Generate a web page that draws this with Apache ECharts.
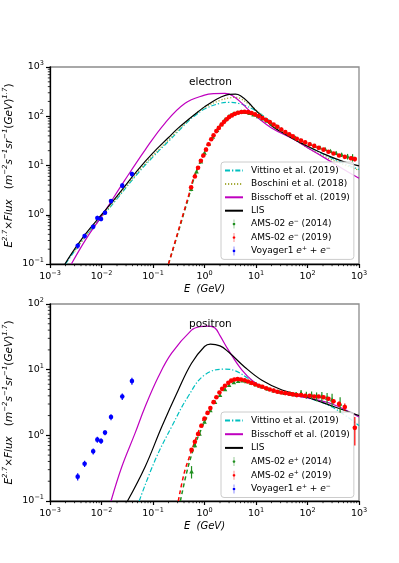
<!DOCTYPE html>
<html>
<head>
<meta charset="utf-8">
<script src="https://cdn.jsdelivr.net/npm/echarts@6/dist/echarts.min.js"></script>
<style>
html, body { margin: 0; padding: 0; background: #fff; }
#chart { width: 399px; height: 563px; }
</style>
</head>
<body>
<div id="chart"></div>
<script>
// ---------- electron panel ----------
const eLisE = [0.00195, 0.003, 0.005, 0.01, 0.02, 0.05, 0.1, 0.2, 0.3, 0.5, 0.8, 1, 1.5, 2, 3, 4, 5, 7, 10, 15, 20, 30, 50, 100, 200, 500, 1000]
const eLisF = [0.1, 0.2, 0.42, 1.0, 2.4, 8.0, 18, 37, 56, 88, 130, 155, 205, 240, 278, 282, 262, 195, 130, 87, 64, 49, 36, 24.5, 17.5, 12, 9.8]

const eBisE = [0.0026, 0.005, 0.01, 0.0286, 0.07, 0.17, 0.42, 1.0, 1.5, 2.5, 3.5, 5.3, 7, 10, 20, 57, 100, 250, 500, 1000]
const eBisF = [0.1, 0.32, 0.93, 5.1, 20.6, 72, 183, 268, 288, 292, 262, 185, 138, 100, 58, 33, 23, 13, 8.4, 5.5]

const eVitE = [0.002, 0.005, 0.01, 0.02, 0.05, 0.1, 0.2, 0.5, 0.65, 1, 2, 3, 5, 10, 20, 50, 100, 300, 1000]
const eVitF = [0.1, 0.38, 0.88, 2.1, 6.8, 15, 31, 82, 102, 140, 183, 192, 178, 128, 76, 39, 25, 14, 8.3]

const eBosE = [0.003, 0.005, 0.01, 0.02, 0.05, 0.1, 0.2, 0.5, 1, 2, 3, 4, 5, 7, 10, 20, 50, 100, 300, 1000]
const eBosF = [0.18, 0.37, 0.9, 2.2, 7.2, 16, 33, 86, 150, 210, 235, 242, 228, 180, 135, 72, 37, 23, 13, 8]

// AMS-02 electrons, dashed low-energy part
const eAms19TailE = [0.2, 0.3, 0.4, 0.5, 0.6, 0.75, 0.9, 1.1]
const eAms19TailF = [0.1, 0.42, 1.18, 2.6, 5.2, 9.5, 15, 23]
const eAms14TailE = [0.2, 0.3, 0.4, 0.5, 0.6, 0.75, 0.9, 1.1]
const eAms14TailF = [0.1, 0.4, 1.1, 2.4, 4.8, 9.0, 14, 22]

const eAms19E = [0.55,0.65,0.75,0.85,0.95,1.07,1.2,1.35,1.5,1.7,1.9,2.15,2.4,2.7,3.0,3.4,3.9,4.5,5.2,6.0,7.0,8.2,9.6,11.3,13.3,15.7,18.5,22,26,31,37,44,52,62,75,90,110,135,165,205,255,320,410,530,700,830]
const eAms19F = [3.6,6.0,9.0,12.5,16,21,27,34,41,50,58,68,77,87,96,104,112,118,122,123,121,116,109,101,92,84,76,68,61,54,48,43,39,35,32,29.5,27,25,23,21,19,17.5,16,15,14,13.5]
const eAms19Err = [0.2,0.3,0.4,0.5,0.6,0.7,0.8,1,1,1.2,1.3,1.5,1.6,1.8,2,2,2,2.2,2.3,2.3,2.3,2.2,2,2,1.8,1.7,1.5,1.4,1.3,1.2,1.1,1,1,0.9,0.9,0.8,0.8,0.8,0.8,0.8,0.8,0.8,0.9,1,1.2,1.5]

const eAms14E = [0.55,0.7,0.85,1.0,1.2,1.45,1.75,2.1,2.5,3.0,3.6,4.3,5.2,6.2,7.5,9,11,13.5,16.5,20,25,31,38,47,58,72,90,112,140,175,220,280,360,460,600,750]
const eAms14F = [3.3,7.5,12,18,27,38,52,68,85,100,112,119,122,121,116,108,99,89,80,71,62,54,47,41.5,36.5,32.5,29.5,27,25,23,21.5,19.5,17.8,16.5,15.2,14.5]
const eAms14Err = [0.3,0.4,0.5,0.6,0.8,1,1.2,1.5,1.8,2,2.2,2.3,2.4,2.4,2.3,2.2,2,1.8,1.6,1.5,1.3,1.2,1.1,1,1,0.9,0.9,0.9,1,1,1.1,1.2,1.4,1.6,2,2.5]

// ---------- positron panel ----------
const pLisE = [0.032, 0.07, 0.148, 0.31, 0.56, 1.0, 1.3, 2.0, 2.9, 6, 13, 32, 90, 340, 1000]
const pLisF = [0.1, 0.33, 1.35, 4.9, 12.5, 22.5, 24.5, 23, 18.7, 11, 6.9, 4.9, 3.9, 2.7, 2.0]

const pBisE = [0.0153, 0.0247, 0.0447, 0.07, 0.127, 0.23, 0.56, 0.8, 1.2, 1.6, 2.0, 2.9, 5.3, 8.9, 15, 30, 100, 300, 1000]
const pBisF = [0.1, 0.33, 1.07, 2.7, 7.8, 17.8, 40, 45, 46, 43, 33, 20, 9.9, 6.6, 5.2, 4.4, 3.7, 3.0, 1.9]

const pVitE = [0.054, 0.11, 0.23, 0.48, 1.0, 2.5, 4, 7, 15, 40, 100, 300, 1000]
const pVitF = [0.1, 0.42, 1.35, 3.9, 8.3, 10.2, 9.6, 7.4, 5.3, 4.2, 3.7, 2.7, 1.4]

const pAms19TailE = [0.31, 0.4, 0.5, 0.6, 0.75, 0.9, 1.1]
const pAms19TailF = [0.1, 0.26, 0.45, 0.68, 1.1, 1.6, 2.2]
const pAms14TailE = [0.34, 0.45, 0.56, 0.68, 0.85, 1.0, 1.2]
const pAms14TailF = [0.1, 0.27, 0.5, 0.78, 1.2, 1.6, 2.1]

const pAms19E = [0.56,0.65,0.75,0.87,1.0,1.15,1.3,1.5,1.7,1.95,2.2,2.5,2.9,3.3,3.8,4.4,5.1,6.0,7.0,8.2,9.6,11.3,13.3,15.7,18.5,22,26,31,37,44,52,62,75,90,110,135,165,205,255,320,410,530,830]
const pAms19F = [0.6,0.8,1.05,1.4,1.8,2.2,2.6,3.2,3.8,4.5,5.1,5.7,6.3,6.8,7.1,7.2,7.1,6.9,6.6,6.3,6.0,5.7,5.5,5.2,5.0,4.8,4.6,4.5,4.4,4.3,4.2,4.1,4.1,4.0,4.0,3.9,3.9,3.8,3.6,3.3,3.0,2.7,1.3]
const pAms19Err = [0.03,0.03,0.04,0.05,0.06,0.07,0.08,0.09,0.1,0.12,0.13,0.14,0.15,0.16,0.17,0.17,0.17,0.16,0.15,0.14,0.13,0.12,0.12,0.11,0.1,0.1,0.1,0.1,0.1,0.1,0.1,0.1,0.11,0.12,0.13,0.15,0.17,0.2,0.22,0.25,0.3,0.35,0.6]

const pAms14E = [0.56,0.65,0.8,1.0,1.3,1.6,2.0,2.5,3.0,3.7,4.5,5.5,6.5,8,10,13,17,22,28,36,46,60,75,95,120,150,190,240,300,430]
const pAms14F = [0.28,0.7,1.05,1.6,2.4,3.2,4.1,5.0,5.8,6.4,6.7,6.8,6.6,6.3,5.9,5.5,5.1,4.8,4.6,4.4,4.3,4.2,4.4,4.1,4.1,3.9,3.9,3.7,3.5,3.0]
const pAms14Err = [0.06,0.05,0.06,0.08,0.1,0.12,0.14,0.16,0.18,0.2,0.2,0.2,0.2,0.2,0.2,0.2,0.2,0.2,0.2,0.25,0.3,0.35,0.5,0.5,0.55,0.6,0.65,0.7,0.8,0.8]

// Voyager 1 e+ + e- (same points in both panels)
const voyE = [0.00345, 0.0047, 0.0069, 0.0083, 0.0098, 0.0117, 0.0153, 0.0253, 0.039]
const voyF = [0.235, 0.37, 0.57, 0.86, 0.82, 1.10, 1.9, 3.9, 6.7]
const voyErr = [0.03, 0.04, 0.06, 0.09, 0.08, 0.1, 0.2, 0.45, 0.8]

// axis ranges
const xRange = [0.001, 1000]
const yRangeTop = [0.1, 1000]
const yRangeBot = [0.1, 100]

const FONT = 'DejaVu Sans'
const errIcon = 'path://M4.5,0H5.5V20H4.5Z M5,7A3,3 0 1 1 5,13A3,3 0 1 1 5,7Z'

// minor tick values 2..9 x 10^k
function minorVals(lo, hi) {
    let out = []
    for (let k = Math.round(Math.log10(lo)); k < Math.round(Math.log10(hi)); k++) {
        for (let m = 2; m <= 9; m++) out.push(m * Math.pow(10, k))
    }
    return out
}

function pairs(xs, ys) {
    return xs.map((x, i) => [x, ys[i]])
}

function curve(name, xs, ys, color, type, width, idx) {
    return {
        name: name, type: 'line', xAxisIndex: idx, yAxisIndex: idx,
        data: pairs(xs, ys), symbol: 'none', smooth: 0.4,
        lineStyle: { color: color, width: width, type: type },
        itemStyle: { color: color }, z: 2
    }
}

// data with vertical error bars
function errSeries(name, xs, ys, errs, color, marker, idx) {
    return {
        name: name, type: 'custom', xAxisIndex: idx, yAxisIndex: idx,
        itemStyle: { color: color }, z: 4,
        data: xs.map((x, i) => [x, ys[i], ys[i] - errs[i], ys[i] + errs[i]]),
        encode: { x: 0, y: 1 },
        renderItem: function (params, api) {
            const p = api.coord([api.value(0), api.value(1)])
            const a = api.coord([api.value(0), Math.max(api.value(2), 0.001)])
            const b = api.coord([api.value(0), api.value(3)])
            let mark
            if (marker === 'tri') {
                mark = { type: 'polygon', shape: { points: [[p[0], p[1] - 2.4], [p[0] - 2.3, p[1] + 1.8], [p[0] + 2.3, p[1] + 1.8]] }, style: { fill: color } }
            } else {
                mark = { type: 'circle', shape: { cx: p[0], cy: p[1], r: 2.3 }, style: { fill: color } }
            }
            return {
                type: 'group', children: [
                    { type: 'line', shape: { x1: a[0], y1: a[1], x2: b[0], y2: b[1] }, style: { stroke: color, lineWidth: 1.2 } },
                    mark
                ]
            }
        }
    }
}

function minorTicks(axisDir, vals, other, idx) {
    return {
        type: 'custom', xAxisIndex: idx, yAxisIndex: idx, silent: true, z: 5,
        data: vals.map(v => axisDir === 'x' ? [v, other] : [other, v]),
        renderItem: function (params, api) {
            const cs = params.coordSys
            const p = api.coord([api.value(0), api.value(1)])
            if (axisDir === 'x') {
                const yb = cs.y + cs.height
                return { type: 'line', shape: { x1: p[0], y1: yb, x2: p[0], y2: yb + 2.2 }, style: { stroke: '#000', lineWidth: 0.8 } }
            }
            return { type: 'line', shape: { x1: cs.x, y1: p[1], x2: cs.x - 2.2, y2: p[1] }, style: { stroke: '#000', lineWidth: 0.8 } }
        }
    }
}

const supRich = {
    b: { fontFamily: FONT, fontSize: 9.5, lineHeight: 14, color: '#000' },
    s: { fontFamily: FONT, fontSize: 6.5, lineHeight: 8, verticalAlign: 'top', color: '#000' }
}

function powLabel(v) {
    const k = Math.round(Math.log10(v))
    return '{b|10}{s|' + (k < 0 ? '\u2212' + (-k) : k) + '}'
}

function xAxis(idx) {
    return {
        type: 'log', logBase: 10, gridIndex: idx, min: xRange[0], max: xRange[1], splitNumber: 6,
        name: 'E  (GeV)', nameLocation: 'middle', nameGap: 20, nameMoveOverlap: false,
        nameTextStyle: { fontFamily: FONT, fontSize: 10, fontStyle: 'italic', color: '#000' },
        axisLine: { lineStyle: { color: '#000', width: 1.3 } },
        axisTick: { length: 4, lineStyle: { color: '#000', width: 1.2 } },
        axisLabel: { margin: 6, formatter: powLabel, rich: supRich },
        splitLine: { show: false }
    }
}

const yName = '{i|E}{s|2.7}{n|\u00d7}{i|Flux}{n|   (}{i|m}{s|\u22122}{i|s}{s|\u22121}{i|sr}{s|\u22121}{n|(}{i|GeV}{n|)}{s|1.7}{n|)}'
const yNameRich = {
    i: { fontFamily: FONT, fontSize: 10.5, fontStyle: 'italic', lineHeight: 14, color: '#000' },
    n: { fontFamily: FONT, fontSize: 10.5, lineHeight: 14, color: '#000' },
    s: { fontFamily: FONT, fontSize: 7, fontStyle: 'italic', lineHeight: 8, verticalAlign: 'top', color: '#000' }
}

function yAxis(idx, range, split) {
    return {
        type: 'log', logBase: 10, gridIndex: idx, min: range[0], max: range[1], splitNumber: split,
        name: yName, nameLocation: 'middle', nameRotate: 90, nameGap: 34, nameMoveOverlap: false,
        nameTextStyle: { rich: yNameRich },
        axisLine: { lineStyle: { color: '#000', width: 1.3 } },
        axisTick: { length: 4, lineStyle: { color: '#000', width: 1.2 } },
        axisLabel: { margin: 6, formatter: powLabel, rich: supRich },
        splitLine: { show: false }
    }
}

const legendText = {
    'AMS-02 e- (2014)': 'AMS-02 {i|e}{s|\u2212} (2014)',
    'AMS-02 e- (2019)': 'AMS-02 {i|e}{s|\u2212} (2019)',
    'AMS-02 e+ (2014)': 'AMS-02 {i|e}{s|+} (2014)',
    'AMS-02 e+ (2019)': 'AMS-02 {i|e}{s|+} (2019)',
    'Voyager1 e+ + e-': 'Voyager1 {i|e}{s|+} + {i|e}{s|\u2212}'
}

function legend(top, gap, names) {
    return {
        orient: 'vertical', left: 221, top: top,
        padding: [3, 4, 3, 3], itemGap: gap, itemWidth: 18, itemHeight: 9,
        backgroundColor: 'rgba(255,255,255,0.85)', borderColor: '#cccccc', borderWidth: 1, borderRadius: 3,
        selectedMode: false,
        textStyle: {
            fontFamily: FONT, fontSize: 9, color: '#000', lineHeight: 11, padding: [0, 0, 0, 3],
            rich: {
                i: { fontFamily: FONT, fontSize: 9, fontStyle: 'italic', color: '#000', lineHeight: 11 },
                s: { fontFamily: FONT, fontSize: 6, lineHeight: 6, verticalAlign: 'top', color: '#000' }
            }
        },
        formatter: name => legendText[name] || name,
        // error-bar icon for data, plain line (symbol hidden) for models
        data: names.map(n => (legendText[n] ? { name: n, icon: errIcon } : { name: n, itemStyle: { opacity: 0 } }))
    }
}

const C_VIT = '#00bfbf', C_BOS = '#a6ac3c', C_BIS = '#bf00bf', C_LIS = '#000000'
const C_GRN = '#1f8f1f', C_RED = '#ff0000', C_BLU = '#0000ff'
const DASHDOT = [5, 2, 1.3, 2]

const chart = echarts.init(document.getElementById('chart'))
chart.setOption({
    animation: false,
    backgroundColor: '#fff',
    title: [
        { text: 'electron', left: 189, top: 77, padding: 0, textStyle: { fontFamily: FONT, fontSize: 10.5, fontWeight: 'normal', color: '#000' } },
        { text: 'positron', left: 189, top: 319, padding: 0, textStyle: { fontFamily: FONT, fontSize: 10.5, fontWeight: 'normal', color: '#000' } }
    ],
    grid: [
        { left: 50, right: 40, top: 67, height: 197, outerBoundsMode: 'none', containLabel: false, show: true, borderColor: '#8c8c8c', borderWidth: 1.3, backgroundColor: 'transparent' },
        { left: 50, right: 40, top: 304, height: 197, outerBoundsMode: 'none', containLabel: false, show: true, borderColor: '#8c8c8c', borderWidth: 1.3, backgroundColor: 'transparent' }
    ],
    xAxis: [xAxis(0), xAxis(1)],
    yAxis: [yAxis(0, yRangeTop, 4), yAxis(1, yRangeBot, 3)],
    legend: [
        legend(162, 2.4, ['Vittino et al. (2019)', 'Boschini et al. (2018)', 'Bisschoff et al. (2019)', 'LIS', 'AMS-02 e- (2014)', 'AMS-02 e- (2019)', 'Voyager1 e+ + e-']),
        legend(412, 2.7, ['Vittino et al. (2019)', 'Bisschoff et al. (2019)', 'LIS', 'AMS-02 e+ (2014)', 'AMS-02 e+ (2019)', 'Voyager1 e+ + e-'])
    ],
    series: [
        // electron panel
        curve('Vittino et al. (2019)', eVitE, eVitF, C_VIT, DASHDOT, 1.2, 0),
        curve('Boschini et al. (2018)', eBosE, eBosF, C_BOS, [1.2, 1.8], 1.3, 0),
        curve('Bisschoff et al. (2019)', eBisE, eBisF, C_BIS, 'solid', 1.2, 0),
        curve('LIS', eLisE, eLisF, C_LIS, 'solid', 1.2, 0),
        curve('e14 tail', eAms14TailE, eAms14TailF, C_GRN, [4, 3], 1.5, 0),
        curve('e19 tail', eAms19TailE, eAms19TailF, C_RED, [4, 3], 1.5, 0),
        errSeries('AMS-02 e- (2014)', eAms14E, eAms14F, eAms14Err, C_GRN, 'tri', 0),
        errSeries('AMS-02 e- (2019)', eAms19E, eAms19F, eAms19Err, C_RED, 'dot', 0),
        errSeries('Voyager1 e+ + e-', voyE, voyF, voyErr, C_BLU, 'dot', 0),
        minorTicks('x', minorVals(xRange[0], xRange[1]), yRangeTop[0], 0),
        minorTicks('y', minorVals(yRangeTop[0], yRangeTop[1]), xRange[0], 0),
        // positron panel
        curve('Vittino et al. (2019)', pVitE, pVitF, C_VIT, DASHDOT, 1.2, 1),
        curve('Bisschoff et al. (2019)', pBisE, pBisF, C_BIS, 'solid', 1.2, 1),
        curve('LIS', pLisE, pLisF, C_LIS, 'solid', 1.2, 1),
        curve('p14 tail', pAms14TailE, pAms14TailF, C_GRN, [4, 3], 1.5, 1),
        curve('p19 tail', pAms19TailE, pAms19TailF, C_RED, [4, 3], 1.5, 1),
        errSeries('AMS-02 e+ (2014)', pAms14E, pAms14F, pAms14Err, C_GRN, 'tri', 1),
        errSeries('AMS-02 e+ (2019)', pAms19E, pAms19F, pAms19Err, C_RED, 'dot', 1),
        errSeries('Voyager1 e+ + e-', voyE, voyF, voyErr, C_BLU, 'dot', 1),
        minorTicks('x', minorVals(xRange[0], xRange[1]), yRangeBot[0], 1),
        minorTicks('y', minorVals(yRangeBot[0], yRangeBot[1]), xRange[0], 1)
    ]
})
</script>
</body>
</html>
